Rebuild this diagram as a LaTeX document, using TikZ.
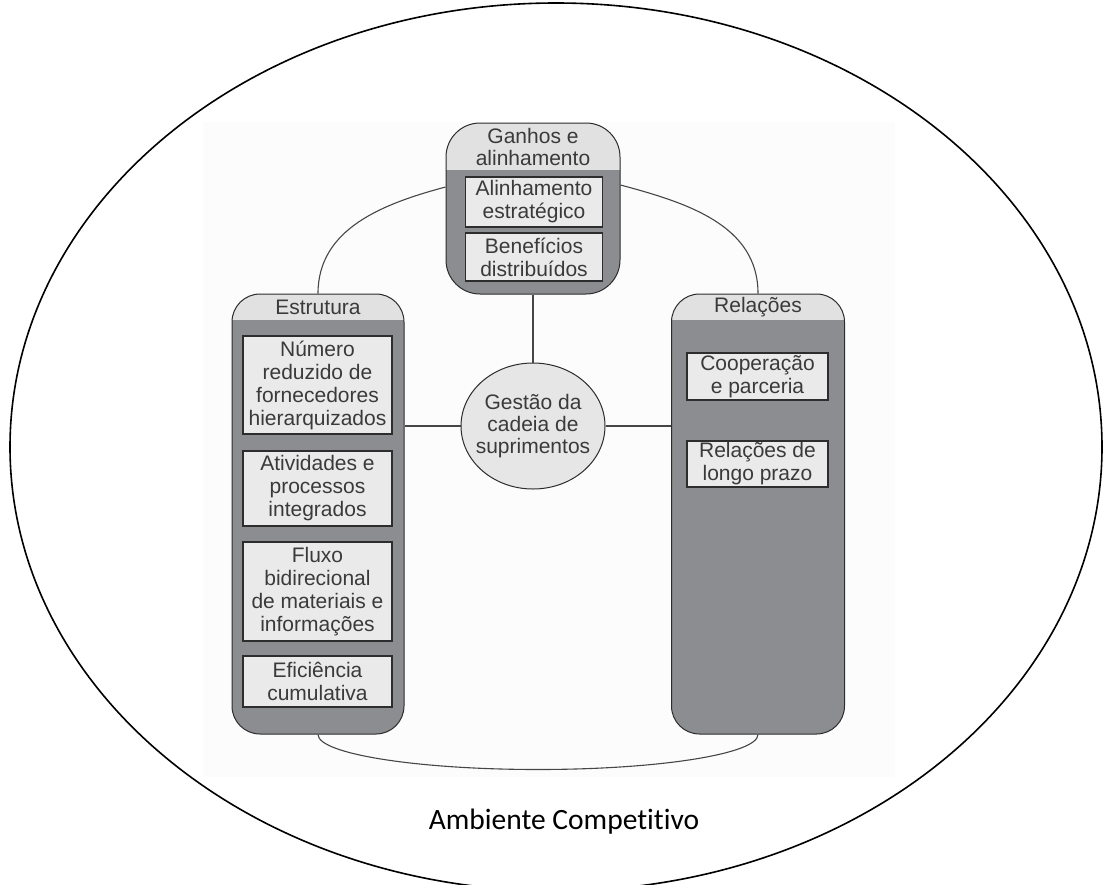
\documentclass[tikz,border=0pt]{standalone}
\usepackage{fontspec}
\setmainfont{Liberation Sans}
\newfontfamily\calibrifont[Ligatures=NoCommon]{Carlito}
\usetikzlibrary{shapes.geometric,calc}
\definecolor{colfill}{RGB}{140,141,144}
\definecolor{hdrfill}{RGB}{225,225,225}
\definecolor{boxfill}{RGB}{234,234,234}
\definecolor{hubfill}{RGB}{230,230,230}
\definecolor{edge}{RGB}{45,45,45}
\definecolor{ink}{RGB}{58,58,58}
\definecolor{linkc}{RGB}{70,70,70}
\definecolor{panel}{RGB}{252,252,252}
\begin{document}
\begin{tikzpicture}[x=1pt,y=1pt,
  column/.style={draw=edge, line width=1pt, fill=colfill, inner sep=0pt},
  header/.style 2 args={path picture={\fill[hdrfill, sharp corners]
      ($(path picture bounding box.north west)+(-2pt,2pt)$) rectangle
      ($(path picture bounding box.north east)+(2pt,-#1)$);}, rounded corners=#2},
  item/.style={draw=edge, line width=1.3pt, fill=boxfill, align=center, text=ink,
      font=\fontsize{21}{23}\selectfont, inner sep=0pt},
  head/.style={align=center, text=ink, font=\fontsize{21}{22}\selectfont, inner sep=0pt},
  hub/.style={ellipse, draw=edge, line width=1pt, fill=hubfill, inner sep=0pt},
  link/.style={draw=linkc, line width=1.1pt}
]
\useasboundingbox (0,0) rectangle (1103,-884);

% light panel behind the diagram
\fill[panel] (203,-122) rectangle (895,-777);

% three pillars
\node[column, header={47pt}{34pt}, minimum width=174pt, minimum height=171pt] (ganhos) at (533,-208.5) {};
\node[column, header={26pt}{28pt}, minimum width=172pt, minimum height=440pt] (estr) at (318,-514) {};
\node[column, header={26pt}{28pt}, minimum width=173pt, minimum height=440pt] (rel) at (758,-514) {};

% pillar titles
\node[head] (ganhosT) at (533,-147) {Ganhos e\\alinhamento};
\node[head] (estrT) at (318,-307) {Estrutura};
\node[head] (relT) at (758,-307) {Relações};

% items of "Ganhos e alinhamento"
\node[item, minimum width=137pt, minimum height=50pt] (g1) at (534,-202) {Alinhamento\\estratégico};
\node[item, minimum width=137pt, minimum height=48pt] (g2) at (534,-257) {Benefícios\\distribuídos};

% items of "Estrutura"
\node[item, minimum width=149pt, minimum height=98pt] (e1) at (317.5,-385) {Número\\reduzido de\\fornecedores\\hierarquizados};
\node[item, minimum width=149pt, minimum height=75pt] (e2) at (317.5,-488.5) {Atividades e\\processos\\integrados};
\node[item, minimum width=149pt, minimum height=99pt] (e3) at (317.5,-591.5) {Fluxo\\bidirecional\\de materiais e\\informações};
\node[item, minimum width=149pt, minimum height=51pt] (e4) at (317.5,-681.5) {Eficiência\\cumulativa};

% items of "Relações"
\node[item, minimum width=141pt, minimum height=47pt] (r1) at (757.5,-376.5) {Cooperação\\e parceria};
\node[item, minimum width=141pt, minimum height=46pt] (r2) at (757.5,-464) {Relações de\\longo prazo};

% central hub
\node[hub, minimum width=144pt, minimum height=126pt] (gest) at (533,-426) {};
\node[head] (gestT) at (gest) {Gestão da\\cadeia de\\suprimentos};

% connectors
\coordinate (gl) at (ganhos.west |- 0,-187);
\coordinate (gr) at (ganhos.east |- 0,-185);
\draw[link] (estr.north) to[out=90, in=195] (gl);
\draw[link] (rel.north) to[out=90, in=-15] (gr);
\draw[link] (estr.south) arc[start angle=180, end angle=360, x radius=220pt, y radius=35pt];
\draw[link] (ganhos.south) -- (gest.north);
\draw[link] (gest.west) -- (gest.west -| estr.east);
\draw[link] (gest.east) -- (gest.east -| rel.west);

% surrounding environment
\draw[line width=1.6pt] (556,-447) ellipse[x radius=546pt, y radius=444pt];
\node[font=\calibrifont\fontsize{29.5}{31}\selectfont, inner sep=0pt] (amb) at (564,-822) {Ambiente Competitivo};
\end{tikzpicture}
\end{document}
